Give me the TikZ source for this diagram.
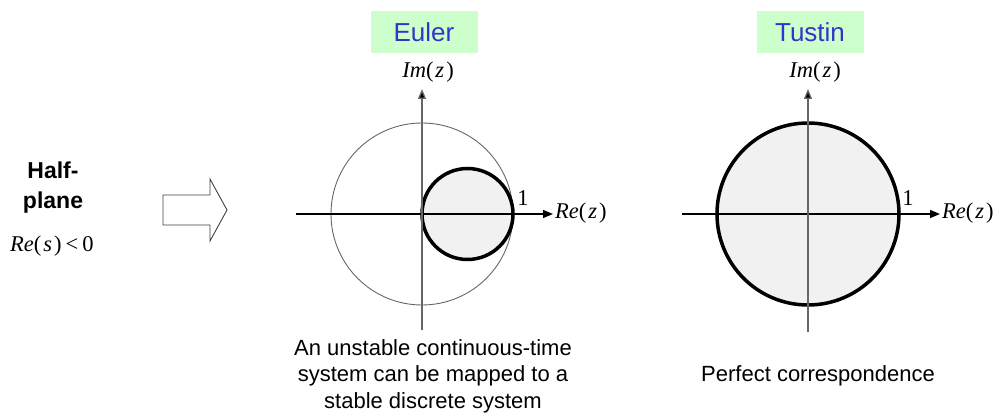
\documentclass[tikz,border=0pt]{standalone}
\usepackage{fontspec}
\setmainfont{Liberation Serif}
\newfontfamily\arialf{Liberation Sans}
\usetikzlibrary{arrows.meta}
\definecolor{boxgreen}{HTML}{CCFFCC}
\definecolor{titleblue}{HTML}{3434C8}
\definecolor{discfill}{HTML}{F1F1F1}
\tikzset{
  titlebox/.style={fill=boxgreen, minimum width=107pt, minimum height=42pt, inner sep=0pt,
    font=\arialf\fontsize{26}{30}\selectfont, text=titleblue},
  mathlbl/.style={inner sep=0pt, font=\fontsize{22.5}{26}\selectfont},
  caption/.style={inner sep=0pt, align=center, font=\arialf\fontsize{22}{26.5}\selectfont},
  haxis/.style={line width=1.3pt, -{Triangle[length=10pt,width=8pt]}},
  vaxisarrow/.style={line width=1.3pt, draw=black!60, -{Triangle[length=10pt,width=8pt,fill=black]}},
  thickdisc/.style={line width=3.5pt, fill=discfill},
  thincircle/.style={line width=0.9pt, draw=black!60},
}
\newcommand{\itx}[1]{\textit{#1}}
\newcommand{\cfun}[2]{\itx{#1}(\kern2pt\itx{#2}\kern2pt)}
\begin{document}
\begin{tikzpicture}[x=1pt,y=-1pt]
\useasboundingbox (0,0) rectangle (999,414);

% left text
\node[inner sep=0pt, align=center, font=\arialf\bfseries\fontsize{23}{30}\selectfont] (hp) at (53,188) {Half-\\plane};
\node[mathlbl, anchor=west] (res) at (10,246) {\cfun{Re}{s}\kern4pt<\kern4pt0};

% block arrow
\draw[line width=0.9pt, draw=black!75, fill=white] (163,195) -- (210,195) -- (210,179) -- (227,210) -- (210,241) -- (210,225) -- (163,225) -- cycle;

% ---------- Euler ----------
\coordinate (eo) at (422,214);
\coordinate (el) at (296,214);
\coordinate (er) at (553,214);
\coordinate (eb) at (422,330);
\coordinate (et) at (422,89);
\draw[thincircle] (eo) circle[radius=91];
\draw[thickdisc] (467.5,214) circle[radius=45.5];
\draw[haxis] (el) -- (er);
\draw[vaxisarrow] (eb) -- (et);
\node[titlebox] (euler) at (424,32) {Euler};
\node[mathlbl] (eim) at (428,72) {\cfun{Im}{z}};
\node[mathlbl, anchor=west] (ere) at (555,213) {\cfun{Re}{z}};
\node[mathlbl] (eone) at (523,198) {1};
\node[caption] (ecap) at (433,376) {An unstable continuous-time\\system can be mapped to a\\stable discrete system};

% ---------- Tustin ----------
\coordinate (to) at (808,214);
\coordinate (tl) at (682,214);
\coordinate (tr) at (940,214);
\coordinate (tb) at (808,332);
\coordinate (tt) at (808,89);
\draw[thickdisc] (to) circle[radius=91];
\draw[haxis] (tl) -- (tr);
\draw[vaxisarrow] (tb) -- (tt);
\node[titlebox] (tustin) at (810,32) {Tustin};
\node[mathlbl] (tim) at (815,72) {\cfun{Im}{z}};
\node[mathlbl, anchor=west] (tre) at (942,213) {\cfun{Re}{z}};
\node[mathlbl] (tone) at (908,198) {1};
\node[caption] (tcap) at (818,376) {Perfect correspondence};
\end{tikzpicture}
\end{document}
